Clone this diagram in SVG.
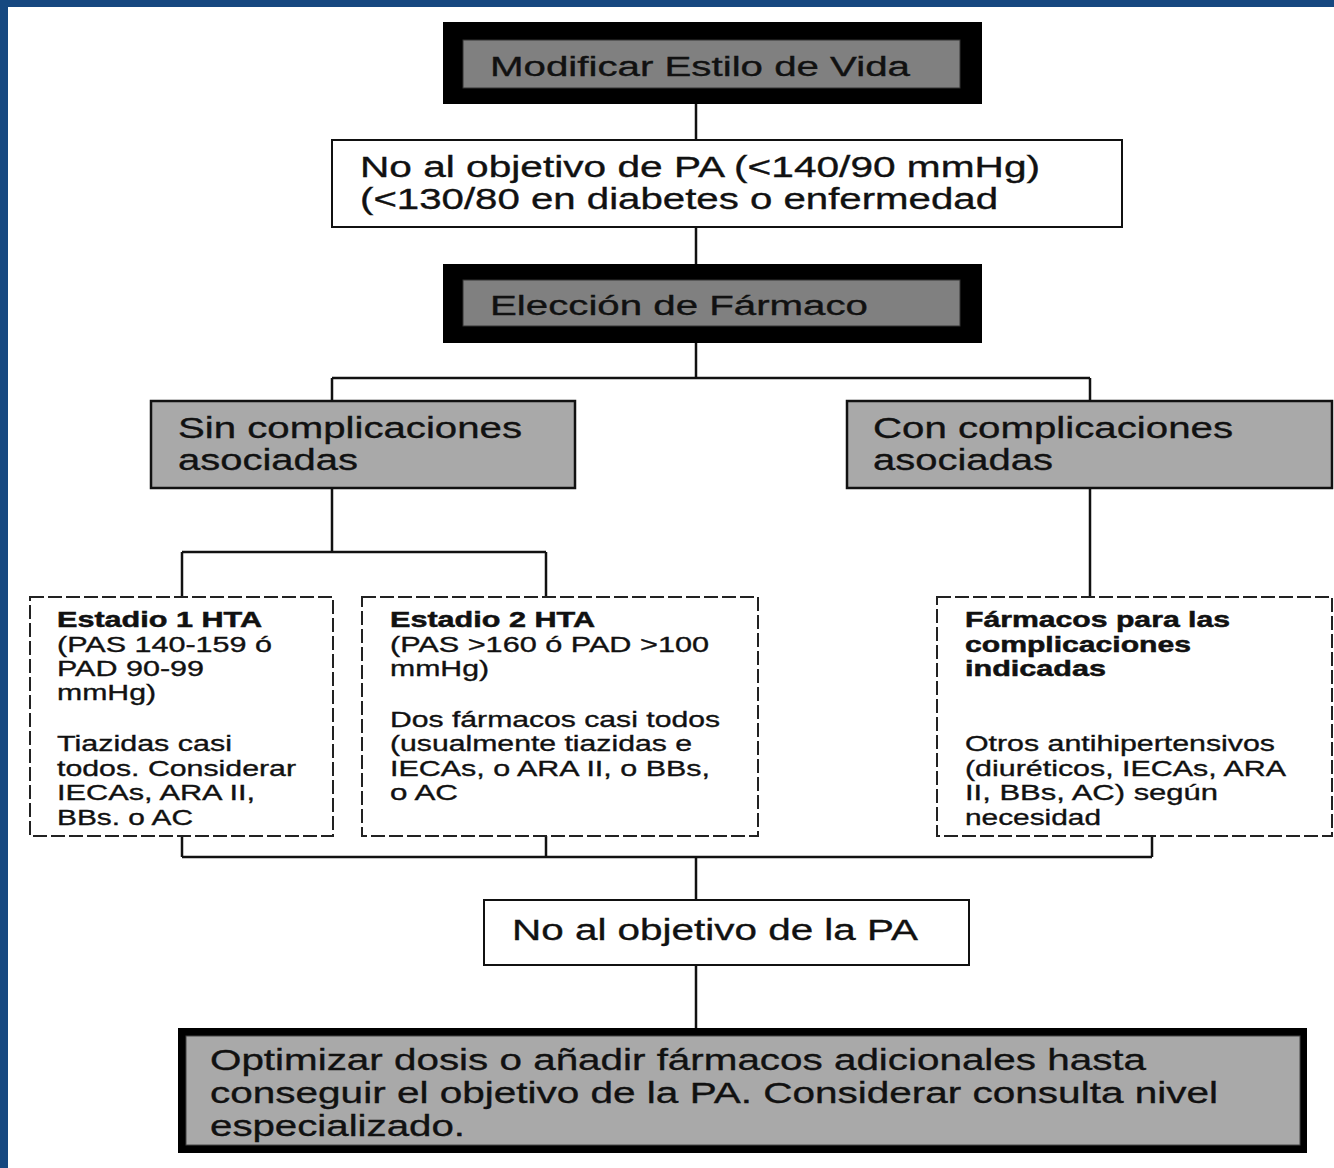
<svg xmlns="http://www.w3.org/2000/svg" width="1334" height="1168" viewBox="0 0 1334 1168">
<style>
text{font-family:"Liberation Sans",Arial,sans-serif;fill:#111;stroke:#111;stroke-width:0.35}
.big{font-size:27px}
.mid{font-size:29px}
.sm{font-size:22px}
.b{font-weight:bold;stroke-width:0.5}
.wb{fill:#fff;stroke:#111;stroke-width:2}
.gb{fill:#a9a9a9;stroke:#111;stroke-width:2.5}
.db{fill:#fff;stroke:#222;stroke-width:2;stroke-dasharray:14 4}
.con{fill:none;stroke:#111;stroke-width:2.5}
</style>
<rect x="0" y="0" width="1334" height="1168" fill="#fff"/>
<rect x="0" y="0" width="1334" height="7" fill="#164880"/>
<rect x="0" y="0" width="8" height="1168" fill="#164880"/>
<g id="connectors">
<path class="con" d="M696 104V140M696 227V264M696 343V378M332 378H1090M332 378V401M1090 378V401"/>
<path class="con" d="M332 488V552M182 552H546M182 552V597M546 552V597M1090 488V597"/>
<path class="con" d="M182 836V857M546 836V857M1152 836V857M182 857H1152M696 857V900M696 965V1028"/>
</g>
<g id="n1">
<rect x="443" y="22" width="539" height="82" fill="#000"/>
<rect x="463" y="40" width="497" height="48" fill="#808080" stroke="#333" stroke-width="1"/>
<text class="big" x="490" y="76" textLength="420" lengthAdjust="spacingAndGlyphs">Modificar Estilo de Vida</text>
</g>
<g id="n2">
<rect class="wb" x="332" y="140" width="790" height="87"/>
<text class="mid" x="360" y="177" textLength="680" lengthAdjust="spacingAndGlyphs">No al objetivo de PA (&lt;140/90 mmHg)</text>
<text class="mid" x="360" y="209" textLength="638" lengthAdjust="spacingAndGlyphs">(&lt;130/80 en diabetes o enfermedad</text>
</g>
<g id="n3">
<rect x="443" y="264" width="539" height="79" fill="#000"/>
<rect x="463" y="280" width="497" height="46" fill="#808080" stroke="#333" stroke-width="1"/>
<text class="big" x="490" y="315" textLength="378" lengthAdjust="spacingAndGlyphs">Elección de Fármaco</text>
</g>
<g id="n4">
<rect class="gb" x="151" y="401" width="424" height="87"/>
<text class="mid" x="178" y="438" textLength="344" lengthAdjust="spacingAndGlyphs">Sin complicaciones</text>
<text class="mid" x="178" y="470" textLength="180" lengthAdjust="spacingAndGlyphs">asociadas</text>
</g>
<g id="n5">
<rect class="gb" x="847" y="401" width="485" height="87"/>
<text class="mid" x="873" y="438" textLength="360" lengthAdjust="spacingAndGlyphs">Con complicaciones</text>
<text class="mid" x="873" y="470" textLength="180" lengthAdjust="spacingAndGlyphs">asociadas</text>
</g>
<g id="n6">
<rect class="db" x="30" y="597" width="303" height="239"/>
<text class="sm b" x="57" y="627" textLength="205" lengthAdjust="spacingAndGlyphs">Estadio 1 HTA</text>
<text class="sm" x="57" y="652" textLength="215" lengthAdjust="spacingAndGlyphs">(PAS 140-159 ó</text>
<text class="sm" x="57" y="676" textLength="147" lengthAdjust="spacingAndGlyphs">PAD 90-99</text>
<text class="sm" x="57" y="700" textLength="99" lengthAdjust="spacingAndGlyphs">mmHg)</text>
<text class="sm" x="57" y="751" textLength="175" lengthAdjust="spacingAndGlyphs">Tiazidas casi</text>
<text class="sm" x="57" y="776" textLength="239" lengthAdjust="spacingAndGlyphs">todos. Considerar</text>
<text class="sm" x="57" y="800" textLength="198" lengthAdjust="spacingAndGlyphs">IECAs, ARA II,</text>
<text class="sm" x="57" y="825" textLength="136" lengthAdjust="spacingAndGlyphs">BBs. o AC</text>
</g>
<g id="n7">
<rect class="db" x="362" y="597" width="396" height="239"/>
<text class="sm b" x="390" y="627" textLength="205" lengthAdjust="spacingAndGlyphs">Estadio 2 HTA</text>
<text class="sm" x="390" y="652" textLength="319" lengthAdjust="spacingAndGlyphs">(PAS &gt;160 ó PAD &gt;100</text>
<text class="sm" x="390" y="676" textLength="99" lengthAdjust="spacingAndGlyphs">mmHg)</text>
<text class="sm" x="390" y="727" textLength="330" lengthAdjust="spacingAndGlyphs">Dos fármacos casi todos</text>
<text class="sm" x="390" y="751" textLength="302" lengthAdjust="spacingAndGlyphs">(usualmente tiazidas e</text>
<text class="sm" x="390" y="776" textLength="320" lengthAdjust="spacingAndGlyphs">IECAs, o ARA II, o BBs,</text>
<text class="sm" x="390" y="800" textLength="68" lengthAdjust="spacingAndGlyphs">o AC</text>
</g>
<g id="n8">
<rect class="db" x="937" y="597" width="395" height="239"/>
<text class="sm b" x="965" y="627" textLength="265" lengthAdjust="spacingAndGlyphs">Fármacos para las</text>
<text class="sm b" x="965" y="652" textLength="226" lengthAdjust="spacingAndGlyphs">complicaciones</text>
<text class="sm b" x="965" y="676" textLength="141" lengthAdjust="spacingAndGlyphs">indicadas</text>
<text class="sm" x="965" y="751" textLength="310" lengthAdjust="spacingAndGlyphs">Otros antihipertensivos</text>
<text class="sm" x="965" y="776" textLength="321" lengthAdjust="spacingAndGlyphs">(diuréticos, IECAs, ARA</text>
<text class="sm" x="965" y="800" textLength="253" lengthAdjust="spacingAndGlyphs">II, BBs, AC) según</text>
<text class="sm" x="965" y="825" textLength="136" lengthAdjust="spacingAndGlyphs">necesidad</text>
</g>
<g id="n9">
<rect class="wb" x="484" y="900" width="485" height="65"/>
<text class="mid" x="512" y="940" textLength="406" lengthAdjust="spacingAndGlyphs">No al objetivo de la PA</text>
</g>
<g id="n10">
<rect x="178" y="1028" width="1129" height="125" fill="#000"/>
<rect x="186" y="1036" width="1114" height="109" fill="#a9a9a9" stroke="#444" stroke-width="1"/>
<text class="mid" x="210" y="1070" textLength="936" lengthAdjust="spacingAndGlyphs">Optimizar dosis o añadir fármacos adicionales hasta</text>
<text class="mid" x="210" y="1103" textLength="1008" lengthAdjust="spacingAndGlyphs">conseguir el objetivo de la PA. Considerar consulta nivel</text>
<text class="mid" x="210" y="1136" textLength="255" lengthAdjust="spacingAndGlyphs">especializado.</text>
</g>
</svg>
